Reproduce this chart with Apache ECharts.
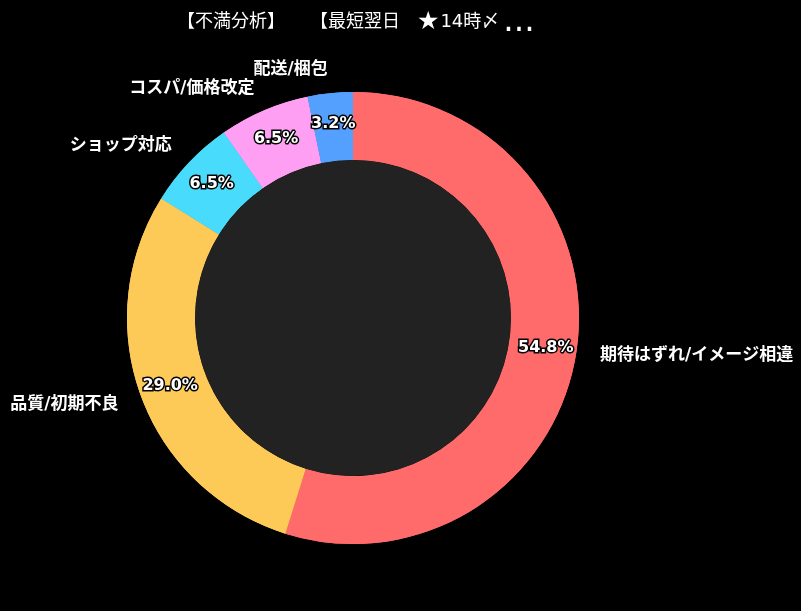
<!DOCTYPE html>
<html>
<head>
<meta charset="utf-8">
<script src="https://cdn.jsdelivr.net/npm/echarts@6/dist/echarts.min.js"></script>
<style>
html,body{margin:0;padding:0;background:#000;}
#chart{width:801px;height:611px;}
</style>
</head>
<body>
<div id="chart"></div>
<script>
const titleParts = ['【不満分析】', '　', '【最短翌日', '★', '14時〆', '...'];
const categories = ['期待はずれ/イメージ相違', '品質/初期不良', 'ショップ対応', 'コスパ/価格改定', '配送/梱包'];
const counts = [17, 9, 2, 2, 1];
const colors = ['#ff6b6b', '#feca57', '#48dbfb', '#ff9ff3', '#54a0ff'];

const data = categories.map((c, i) => ({ name: c, value: counts[i], itemStyle: { color: colors[i] } }));
const FONT = '"DejaVu Sans", "Noto Sans CJK JP", sans-serif';
const titleStyles = ['t', 'sp', 't', 'star', 't', 'dots'];
const titleText = titleParts.map((p, i) => '{' + titleStyles[i] + '|' + p + '}').join('');

const chart = echarts.init(document.getElementById('chart'), null, { renderer: 'canvas' });
chart.setOption({
  backgroundColor: '#000',
  animation: false,
  title: {
    text: titleText,
    left: 172,
    top: 6,
    textStyle: {
      color: '#fff', fontSize: 18, fontWeight: 'normal', fontFamily: FONT,
      rich: {
        t: { color: '#fff', fontSize: 18, fontFamily: FONT, lineHeight: 22 },
        sp: { color: '#fff', fontSize: 25, fontFamily: FONT, lineHeight: 22 },
        star: { color: '#fff', fontSize: 25, fontFamily: FONT, lineHeight: 22, padding: [0, 1, 0, 17] },
        dots: { color: '#fff', fontSize: 33, fontFamily: FONT, lineHeight: 22, padding: [0, 0, 0, 4] }
      }
    }
  },
  series: [
    {
      type: 'pie',
      center: [353, 318],
      radius: [158, 226],
      startAngle: 90,
      avoidLabelOverlap: false,
      data: data,
      itemStyle: { borderWidth: 0 },
      label: {
        show: true,
        position: 'outside',
        color: '#fff',
        fontSize: 17,
        fontWeight: 'bold',
        fontFamily: FONT,
        padding: [5, 0, 0, 0],
        distanceToLabelLine: 0,
        formatter: '{b}'
      },
      labelLine: { show: false, length: 24, length2: 0 },
      silent: true
    },
    {
      type: 'pie',
      center: [353, 318],
      radius: [158, 226],
      startAngle: 90,
      data: data,
      itemStyle: { borderWidth: 0 },
      label: {
        show: true,
        position: 'inside',
        color: '#fff',
        fontSize: 16,
        fontWeight: 'bold',
        fontFamily: FONT,
        textBorderColor: '#000',
        textBorderWidth: 3,
        formatter: p => p.percent.toFixed(1) + '%'
      },
      percentPrecision: 1,
      labelLine: { show: false },
      silent: true
    },
    {
      type: 'pie',
      center: [353, 318],
      radius: [0, 158],
      silent: true,
      label: { show: false },
      labelLine: { show: false },
      data: [{ value: 1, name: '', itemStyle: { color: '#222' } }]
    }
  ]
});
</script>
</body>
</html>
